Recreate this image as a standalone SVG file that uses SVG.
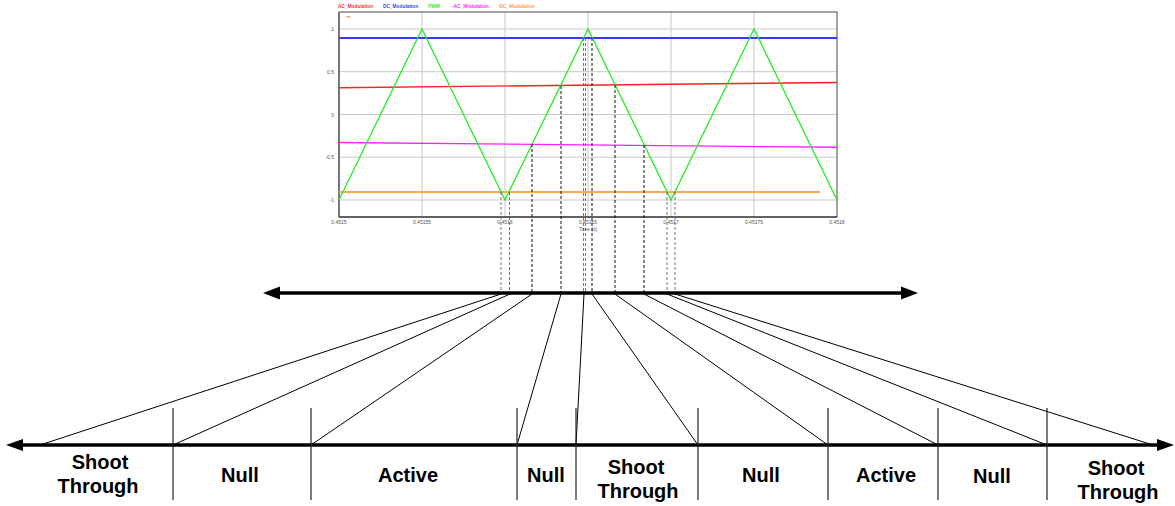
<svg xmlns="http://www.w3.org/2000/svg" width="1175" height="506" viewBox="0 0 1175 506">
<style>
.grid{stroke:#c8c8c8;stroke-width:1;fill:none}
.tick{font-family:"Liberation Sans",Arial,sans-serif;font-size:5px;fill:#555}
.leg{font-family:"Liberation Sans",Arial,sans-serif;font-size:4.8px;font-weight:bold}
.dash{stroke:#111;stroke-width:1;stroke-dasharray:3,2;fill:none}
.dashg{stroke:#555;stroke-width:0.8;stroke-dasharray:3,2;fill:none}
.diag{stroke:#000;stroke-width:1;fill:none}
.div{stroke:#222;stroke-width:1.2;fill:none}
.axis{stroke:#000;stroke-width:3.5;fill:none}
.lbl{font-family:"Liberation Sans",Arial,sans-serif;font-size:20px;font-weight:bold;fill:#000;text-anchor:middle}
</style>
<rect width="1175" height="506" fill="#fff"/>
<g id="chart">
  <text class="leg" x="338" y="8" fill="#ff3030">AC_Modulation</text>
  <text class="leg" x="383" y="8" fill="#4040ff">DC_Modulation</text>
  <text class="leg" x="428" y="8" fill="#30ee30">PWM</text>
  <text class="leg" x="452" y="8" fill="#ff30ff">-AC_Modulation</text>
  <text class="leg" x="498" y="8" fill="#ffa040">-DC_Modulation</text>
  <rect x="346.5" y="16" width="3.5" height="1.6" fill="#ffa040"/>
  <g class="grid">
    <line x1="339" y1="29" x2="837" y2="29"/>
    <line x1="339" y1="71.7" x2="837" y2="71.7"/>
    <line x1="339" y1="114.5" x2="837" y2="114.5"/>
    <line x1="339" y1="157.2" x2="837" y2="157.2"/>
    <line x1="339" y1="200" x2="837" y2="200"/>
    <line x1="422" y1="12" x2="422" y2="217"/>
    <line x1="505" y1="12" x2="505" y2="217"/>
    <line x1="588" y1="12" x2="588" y2="217"/>
    <line x1="671" y1="12" x2="671" y2="217"/>
    <line x1="754" y1="12" x2="754" y2="217"/>
  </g>
  <rect x="339" y="12" width="498" height="205" fill="none" stroke="#666" stroke-width="1.2"/>
  <line x1="339" y1="12" x2="339" y2="217" stroke="#777" stroke-width="2"/>
  <line x1="339" y1="217" x2="837" y2="217" stroke="#222" stroke-width="1"/>
  <g class="tick" text-anchor="end">
    <text x="334" y="31">1</text>
    <text x="334" y="73.5">0.5</text>
    <text x="334" y="116.5">0</text>
    <text x="334" y="159">-0.5</text>
    <text x="334" y="202">-1</text>
  </g>
  <g class="tick" text-anchor="middle">
    <text x="339" y="224">0.4515</text>
    <text x="422" y="224">0.45155</text>
    <text x="505" y="224">0.4516</text>
    <text x="588" y="224">0.45165</text>
    <text x="671" y="224">0.4517</text>
    <text x="754" y="224">0.45175</text>
    <text x="837" y="224">0.4518</text>
    <text x="588" y="230.5">Time (s)</text>
  </g>
  <line x1="339" y1="38" x2="837" y2="38" stroke="#3838ff" stroke-width="1.8"/>
  <line x1="339" y1="87.7" x2="837" y2="82.5" stroke="#ff2020" stroke-width="1.4"/>
  <line x1="339" y1="142.5" x2="837" y2="147.3" stroke="#ff20ff" stroke-width="1.4"/>
  <line x1="339" y1="192" x2="820" y2="192" stroke="#ffa850" stroke-width="1.8"/>
  <polyline points="339,200 422,29 505,200 588,29 671,200 754,29 837,200" fill="none" stroke="#22ee22" stroke-width="1.3"/>
</g>
<g id="connectors">
  <line class="dashg" x1="501" y1="192" x2="501" y2="292"/>
  <line class="dashg" x1="509.5" y1="192" x2="509.5" y2="292"/>
  <line class="dash" x1="532" y1="144" x2="532" y2="292"/>
  <line class="dash" x1="561" y1="86" x2="561" y2="292"/>
  <line class="dashg" x1="583.5" y1="38" x2="583.5" y2="292"/>
  <line class="dashg" x1="585.5" y1="38" x2="585.5" y2="292"/>
  <line class="dash" x1="592" y1="38" x2="592" y2="292"/>
  <line class="dash" x1="615" y1="85" x2="615" y2="292"/>
  <line class="dash" x1="644" y1="145" x2="644" y2="292"/>
  <line class="dashg" x1="667" y1="192" x2="667" y2="292"/>
  <line class="dashg" x1="675" y1="192" x2="675" y2="292"/>
  <line class="diag" x1="501" y1="294" x2="40" y2="445"/>
  <line class="diag" x1="510" y1="294" x2="173" y2="445"/>
  <line class="diag" x1="532" y1="294" x2="311" y2="445"/>
  <line class="diag" x1="561" y1="294" x2="517" y2="445"/>
  <line class="diag" x1="584" y1="294" x2="576" y2="445"/>
  <line class="diag" x1="592" y1="294" x2="698" y2="445"/>
  <line class="diag" x1="615" y1="294" x2="828" y2="445"/>
  <line class="diag" x1="644" y1="294" x2="938" y2="445"/>
  <line class="diag" x1="667" y1="294" x2="1047" y2="445"/>
  <line class="diag" x1="675" y1="294" x2="1153" y2="445"/>
  <line class="axis" x1="272" y1="293" x2="909" y2="293"/>
  <polygon points="263,293 280,286.5 280,299.5" fill="#000"/>
  <polygon points="918,293 901,286.5 901,299.5" fill="#000"/>
  <line class="axis" x1="15" y1="445" x2="1165" y2="445"/>
  <polygon points="6,445 23,439 23,451" fill="#000"/>
  <polygon points="1174,445 1157,439 1157,451" fill="#000"/>
  <line class="div" x1="173" y1="408" x2="173" y2="500"/>
  <line class="div" x1="311" y1="408" x2="311" y2="500"/>
  <line class="div" x1="517" y1="408" x2="517" y2="500"/>
  <line class="div" x1="576" y1="408" x2="576" y2="500"/>
  <line class="div" x1="698" y1="408" x2="698" y2="500"/>
  <line class="div" x1="828" y1="408" x2="828" y2="500"/>
  <line class="div" x1="938" y1="408" x2="938" y2="500"/>
  <line class="div" x1="1047" y1="408" x2="1047" y2="500"/>
</g>
<g id="seg1"><text class="lbl" x="100" y="469">Shoot</text><text class="lbl" x="98" y="493">Through</text></g>
<g id="seg2"><text class="lbl" x="240" y="482">Null</text></g>
<g id="seg3"><text class="lbl" x="408" y="482">Active</text></g>
<g id="seg4"><text class="lbl" x="546" y="482">Null</text></g>
<g id="seg5"><text class="lbl" x="636" y="474">Shoot</text><text class="lbl" x="638" y="498">Through</text></g>
<g id="seg6"><text class="lbl" x="761" y="482">Null</text></g>
<g id="seg7"><text class="lbl" x="886" y="482">Active</text></g>
<g id="seg8"><text class="lbl" x="992" y="483">Null</text></g>
<g id="seg9"><text class="lbl" x="1116" y="475">Shoot</text><text class="lbl" x="1118" y="499">Through</text></g>
</svg>
